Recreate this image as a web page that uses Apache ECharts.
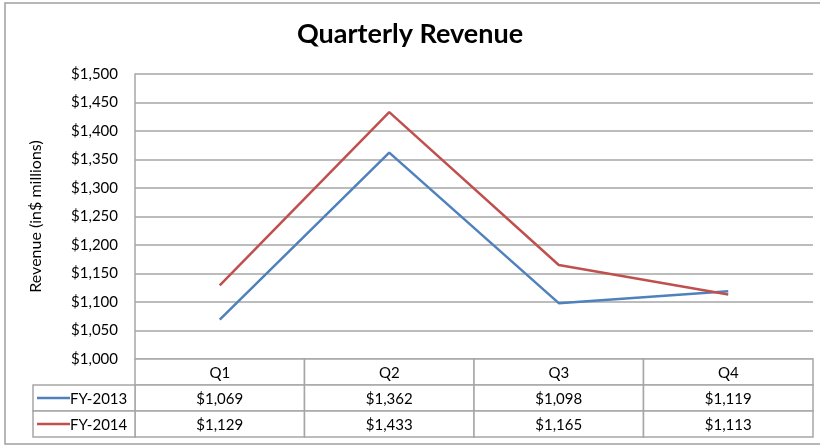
<!DOCTYPE html>
<html>
<head>
<meta charset="utf-8">
<script src="https://cdn.jsdelivr.net/npm/echarts@6/dist/echarts.min.js"></script>
<style>
    html, body { margin: 0; padding: 0; background: #fff; }
    #chart { width: 820px; height: 446px; }
</style>
</head>
<body>
<div id="chart"></div>
<script>
    const quarters = ['Q1', 'Q2', 'Q3', 'Q4'];
    const seriesNames = ['FY-2013', 'FY-2014'];
    const fy2013 = [1069, 1362, 1098, 1119];
    const fy2014 = [1129, 1433, 1165, 1113];
    const yTicks = [1000, 1500, 50];

    const color = ['#4F81BD', '#C0504D'];
    const lineGray = '#a6a6a6';
    const font = 'Lato, "Open Sans", sans-serif';

    const money = v => '$' + Number(v).toLocaleString('en-US');

    const values = [fy2013, fy2014];

    // table cells: [col, row, value] row 0 = header
    const tableData = [];
    quarters.forEach((q, c) => tableData.push([c, 0, 0]));
    values.forEach((arr, r) => arr.forEach((v, c) => tableData.push([c, r + 1, v])));

    const cellRect = (api) => {
        const p = api.coord([api.value(0), api.value(1)]);
        const s = api.size([1, 1]);
        return { x: p[0] - s[0] / 2, y: p[1] - s[1] / 2, w: s[0], h: s[1], cx: p[0], cy: p[1] };
    };

    const option = {
        animation: false,
        color,
        title: {
            text: 'Quarterly Revenue',
            left: 'center',
            top: 16,
            textStyle: { fontFamily: font, fontSize: 27, fontWeight: 'bold', color: '#000' }
        },
        grid: [
            { left: 135, right: 7, top: 74, height: 285 },
            { left: 135, right: 7, top: 359, height: 78 }
        ],
        xAxis: [{
            gridIndex: 0,
            type: 'category',
            data: quarters,
            boundaryGap: true,
            axisLine: { show: false },
            axisTick: { show: false },
            axisLabel: { show: false }
        }, {
            gridIndex: 1,
            type: 'category',
            data: quarters,
            boundaryGap: true,
            show: false
        }],
        yAxis: [{
            gridIndex: 0,
            type: 'value',
            min: yTicks[0],
            max: yTicks[1],
            interval: yTicks[2],
            name: 'Revenue (in$ millions)',
            nameLocation: 'middle',
            nameGap: 91,
            nameTextStyle: { fontFamily: font, fontSize: 16, color: '#000' },
            axisLine: { show: true, lineStyle: { color: lineGray, width: 1.5 } },
            axisTick: { show: false },
            axisLabel: {
                formatter: money,
                margin: 17,
                fontFamily: font,
                fontSize: 15,
                color: '#000'
            },
            splitLine: { show: true, lineStyle: { color: lineGray, width: 1.5 } }
        }, {
            gridIndex: 1,
            type: 'category',
            data: ['head'].concat(seriesNames),
            inverse: true,
            show: false
        }],
        series: [
            ...seriesNames.map((name, i) => ({
                name,
                type: 'line',
                xAxisIndex: 0,
                yAxisIndex: 0,
                data: values[i],
                showSymbol: false,
                lineStyle: { color: color[i], width: 2.5 }
            })),
            {
                // data table cells
                type: 'custom',
                xAxisIndex: 1,
                yAxisIndex: 1,
                data: tableData,
                silent: true,
                renderItem(params, api) {
                    const r = cellRect(api);
                    const row = api.value(1);
                    const text = row === 0 ? quarters[api.value(0)] : money(api.value(2));
                    return {
                        type: 'group',
                        children: [{
                            type: 'rect',
                            shape: { x: r.x, y: r.y, width: r.w, height: r.h },
                            style: { fill: '#fff', stroke: lineGray, lineWidth: 1.5 }
                        }, {
                            type: 'text',
                            style: {
                                text, x: r.cx, y: r.cy + 1, align: 'center', verticalAlign: 'middle',
                                font: '15px ' + font, fill: '#000'
                            }
                        }]
                    };
                }
            },
            {
                // legend column of the table
                type: 'custom',
                xAxisIndex: 1,
                yAxisIndex: 1,
                data: [[0, 1], [0, 2]],
                silent: true,
                clip: false,
                renderItem(params, api) {
                    const r = cellRect(api);
                    const i = api.value(1) - 1;
                    const left = r.x - 102;
                    return {
                        type: 'group',
                        children: [{
                            type: 'rect',
                            shape: { x: left, y: r.y, width: 102, height: r.h },
                            style: { fill: '#fff', stroke: lineGray, lineWidth: 1.5 }
                        }, {
                            type: 'line',
                            shape: { x1: left + 4, y1: r.cy, x2: left + 37, y2: r.cy },
                            style: { stroke: color[i], lineWidth: 2.5 }
                        }, {
                            type: 'text',
                            style: {
                                text: seriesNames[i], x: left + 37, y: r.cy + 1, align: 'left', verticalAlign: 'middle',
                                font: '15px ' + font, fill: '#000'
                            }
                        }]
                    };
                }
            }
        ],
        graphic: [{
            type: 'rect',
            shape: { x: 5, y: 3, width: 830, height: 441 },
            style: { fill: null, stroke: '#a0a0a0', lineWidth: 1.5 },
            silent: true,
            z: -1
        }]
    };

    const myChart = echarts.init(document.getElementById('chart'));
    myChart.setOption(option);
</script>
</body>
</html>
